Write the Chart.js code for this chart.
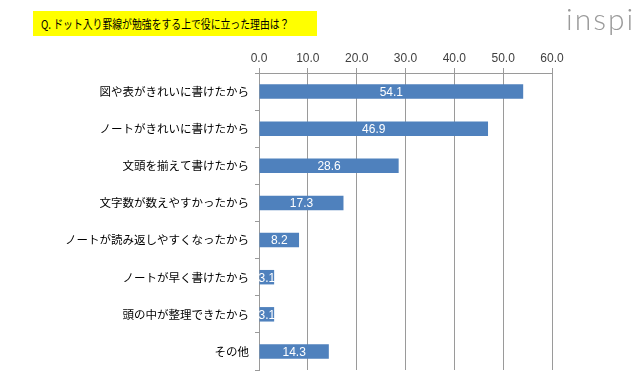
<!DOCTYPE html>
<html><head><meta charset="utf-8">
<script src="https://cdn.jsdelivr.net/npm/chart.js@4/dist/chart.umd.min.js"></script>
<style>
html,body{margin:0;padding:0;background:#fff;width:640px;height:391px;overflow:hidden;}
#wrap{position:relative;width:640px;height:391px;}
#title{position:absolute;left:33px;top:11px;width:284px;height:25px;background:#ffff00;overflow:hidden;}
#title span{position:absolute;left:8px;top:0;white-space:nowrap;font-family:"Noto Sans CJK JP",sans-serif;font-size:12px;line-height:25px;color:#000;transform:scaleX(0.82);transform-origin:0 50%;}
#logo{position:absolute;left:566px;top:0px;font-family:"Lato","Open Sans",sans-serif;font-weight:300;font-size:30px;color:#9a9a9a;letter-spacing:2px;white-space:nowrap;}
canvas{position:absolute;left:0;top:0;}
</style></head>
<body><div id="wrap">
<canvas id="c" width="640" height="391"></canvas>
<div id="title"><span>Q. ドット入り罫線が勉強をする上で役に立った理由は？</span></div>
<div id="logo">inspi</div>
</div>
<script>
const categories = ["図や表がきれいに書けたから","ノートがきれいに書けたから","文頭を揃えて書けたから","文字数が数えやすかったから","ノートが読み返しやすくなったから","ノートが早く書けたから","頭の中が整理できたから","その他"];
const values = [54.1, 46.9, 28.6, 17.3, 8.2, 3.1, 3.1, 14.3];
const xTickValues = [0, 10, 20, 30, 40, 50, 60];

const labelPlugin = {
  id: 'valLabels',
  afterDatasetsDraw(chart) {
    const ctx = chart.ctx;
    const meta = chart.getDatasetMeta(0);
    ctx.save();
    ctx.fillStyle = '#ffffff';
    ctx.font = '12px "Liberation Sans", sans-serif';
    ctx.textAlign = 'center';
    ctx.textBaseline = 'middle';
    meta.data.forEach((bar, i) => {
      const cx = (bar.x + bar.base) / 2;
      ctx.fillText(values[i].toFixed(1), cx, bar.y + 1);
    });
    ctx.restore();
  }
};

new Chart(document.getElementById('c'), {
  type: 'bar',
  data: {
    labels: categories,
    datasets: [{
      data: values,
      backgroundColor: '#4f81bd',
      borderWidth: 0,
      barPercentage: 0.39,
      categoryPercentage: 1.0
    }]
  },
  options: {
    indexAxis: 'y',
    responsive: false,
    animation: false,
    layout: { padding: { left: 0, right: 88, top: 0, bottom: 21 } },
    plugins: { legend: { display: false }, tooltip: { enabled: false } },
    scales: {
      x: {
        position: 'top',
        min: 0, max: 60,
        afterBuildTicks(scale) { scale.ticks = xTickValues.map(v => ({ value: v })); },
        afterFit(scale) { scale.height = 73; },
        ticks: {
          callback: v => Number(v).toFixed(1),
          color: '#404040',
          font: { family: '"Liberation Sans", sans-serif', size: 12 },
          padding: 2
        },
        grid: { color: '#9a9a9a', lineWidth: 1, tickLength: 5, drawTicks: true },
        border: { color: '#9a9a9a' }
      },
      y: {
        afterFit(scale) { scale.width = 259; },
        ticks: {
          color: '#000000',
          font: { family: '"Noto Sans CJK JP", sans-serif', size: 11.5 },
          padding: 6
        },
        grid: { offset: true, drawOnChartArea: false, color: '#9a9a9a', tickLength: 4 },
        border: { color: '#9a9a9a' }
      }
    }
  },
  plugins: [labelPlugin]
});
</script>
</body></html>
